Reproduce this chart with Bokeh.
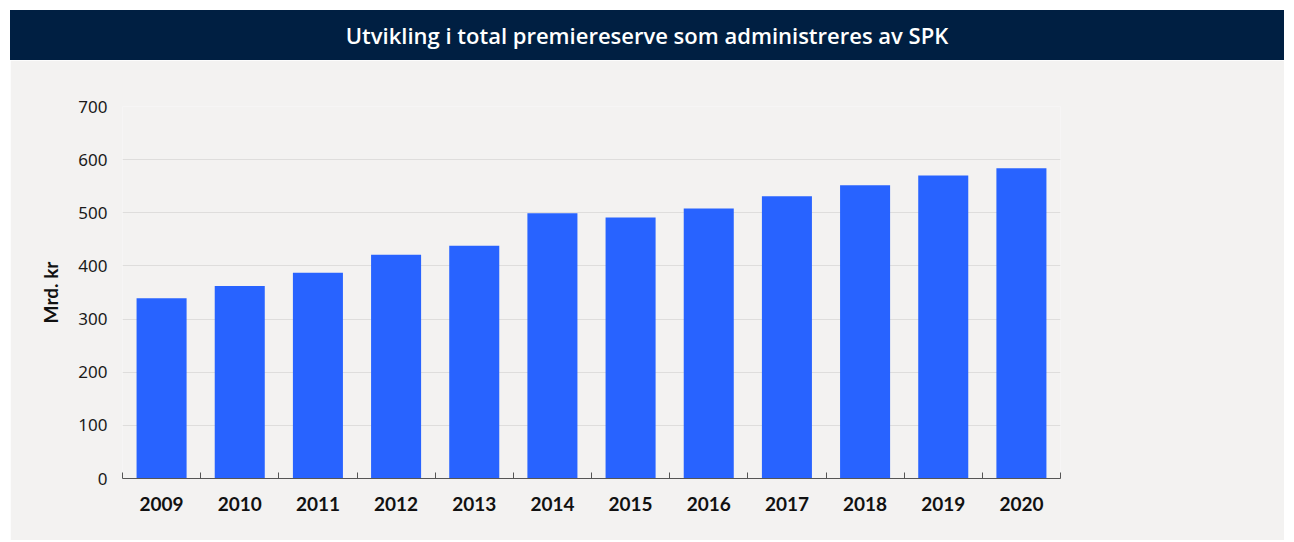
from bokeh.plotting import figure
from bokeh.models import FixedTicker, Range1d, ColumnDataSource, Div
from bokeh.layouts import column
from bokeh.embed import file_html
from bokeh.resources import INLINE

years = ["2009", "2010", "2011", "2012", "2013", "2014",
         "2015", "2016", "2017", "2018", "2019", "2020"]
reserve = [339, 362, 387, 421, 438, 499, 491, 508, 531, 552, 570, 584]
y_ticks = [0, 100, 200, 300, 400, 500, 600, 700]
title_text = "Utvikling i total premiereserve som administreres av SPK"
y_label = "Mrd. kr"

BG = "#f3f2f1"
NAVY = "#001f42"
BAR = "#2863ff"

positions = [i + 0.5 for i in range(len(years))]
boundaries = list(range(len(years) + 1))
src = ColumnDataSource(dict(x=positions, value=reserve, year=years))

header = Div(text=title_text, width=1274, height=50, margin=0,
             styles={"background-color": NAVY, "color": "white",
                     "font-family": "Open Sans", "font-weight": "600",
                     "font-size": "22px", "text-align": "center",
                     "line-height": "50px", "white-space": "nowrap"})

p = figure(width=1274, height=480,
           x_range=Range1d(0, len(years)), y_range=Range1d(0, 700),
           output_backend="svg", toolbar_location=None,
           min_border_left=112, min_border_right=224,
           min_border_top=46, min_border_bottom=62)
p.margin = 0
p.background_fill_color = BG
p.border_fill_color = BG
p.outline_line_color = None
p.xgrid.visible = False
p.ygrid.grid_line_color = "#dedddc"
p.ygrid.grid_line_width = 1

p.vbar(x="x", top="value", bottom=0, width=0.64, source=src,
       fill_color=BAR, line_color=None)

# y axis
yax = p.yaxis[0]
yax.ticker = FixedTicker(ticks=y_ticks)
yax.axis_line_color = None
yax.major_tick_line_color = None
yax.minor_tick_line_color = None
yax.major_label_standoff = 9
yax.major_label_text_font = "Noto Sans"
yax.major_label_text_font_size = "17px"
yax.major_label_text_color = "#1a1a1a"
yax.axis_label = y_label
yax.axis_label_text_font = "Lato"
yax.axis_label_text_font_style = "bold"
yax.axis_label_text_font_size = "19px"
yax.axis_label_text_color = "#111111"
yax.axis_label_standoff = 13

# x axis: labels at category centres, small ticks between categories
xax = p.xaxis[0]
xax.ticker = FixedTicker(ticks=positions, minor_ticks=boundaries)
xax.major_label_overrides = {pos: yr for pos, yr in zip(positions, years)}
xax.axis_line_color = "#555555"
xax.major_tick_line_color = None
xax.major_tick_in = 0
xax.major_tick_out = 0
xax.minor_tick_line_color = "#555555"
xax.minor_tick_in = 6
xax.minor_tick_out = 0
xax.major_label_standoff = 18
xax.major_label_text_font = "Lato"
xax.major_label_text_font_style = "bold"
xax.major_label_text_font_size = "19px"
xax.major_label_text_color = "#111111"

layout = column(header, p, spacing=0)
layout.margin = (10, 0, 0, 10)

open("out.html", "w").write(file_html(layout, INLINE))
